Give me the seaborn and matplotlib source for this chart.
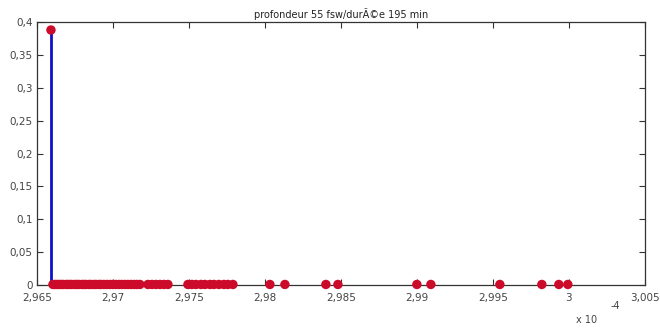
import numpy as np
import pandas as pd
import matplotlib
matplotlib.use("Agg")
import matplotlib.pyplot as plt
import matplotlib.ticker as mticker
import seaborn as sns

# x values (units of 1e-4)
x_vals = [
    2.965921, 2.966053, 2.966184, 2.966316, 2.966447, 2.966579, 2.966711, 2.966908,
    2.967039, 2.967171, 2.967303, 2.967500, 2.967632, 2.967763, 2.967961, 2.968092,
    2.968224, 2.968421, 2.968553, 2.968750, 2.968882, 2.969079, 2.969211, 2.969408,
    2.969605, 2.969803, 2.970000, 2.970197, 2.970395, 2.970592, 2.970789, 2.970987,
    2.971184, 2.971382, 2.971579, 2.971776,
    2.972303, 2.972566, 2.972829, 2.973092, 2.973355, 2.973618,
    2.974934, 2.975197, 2.975461, 2.975789, 2.976053, 2.976382, 2.976645, 2.976974,
    2.977303, 2.977566, 2.977895,
    2.980329, 2.981316, 2.984013, 2.984803, 2.990000, 2.990921, 2.995461,
    2.998224, 2.999342, 2.999934,
]
y_vals = [0.388] + [0.001] * (len(x_vals) - 1)

x_ticks = [2.965, 2.97, 2.975, 2.98, 2.985, 2.99, 2.995, 3.0, 3.005]
x_tick_labels = ["2,965", "2,97", "2,975", "2,98", "2,985", "2,99", "2,995", "3", "3,005"]
y_ticks = [0, 0.05, 0.1, 0.15, 0.2, 0.25, 0.3, 0.35, 0.4]
y_tick_labels = ["0", "0,05", "0,1", "0,15", "0,2", "0,25", "0,3", "0,35", "0,4"]
title = "profondeur 55 fsw/durÃ©e 195 min"

df = pd.DataFrame({"x": x_vals, "y": y_vals})

sns.set_style("ticks")
plt.rcParams["font.family"] = ["DejaVu Sans"]

fig = plt.figure(figsize=(6.6, 3.3), dpi=100)
ax = fig.add_axes([0.056, 0.136, 0.921, 0.797])

ax.vlines(df["x"], 0, df["y"], color="#1010c8", linewidth=2.0, zorder=2)
sns.scatterplot(data=df, x="x", y="y", ax=ax, color="#cc0a2a", s=46,
                edgecolor="none", zorder=3, legend=False, clip_on=False)

ax.set_xlim(2.965, 3.005)
ax.set_ylim(0, 0.4)
ax.set_xticks(x_ticks)
ax.set_xticklabels(x_tick_labels)
ax.set_yticks(y_ticks)
ax.set_yticklabels(y_tick_labels)
ax.set_xlabel("")
ax.set_ylabel("")
ax.set_title(title, fontsize=7, color="#222222", pad=3)

for s in ax.spines.values():
    s.set_visible(True)
    s.set_color("#333333")
    s.set_linewidth(0.9)
ax.tick_params(direction="in", top=True, right=True, length=4, width=0.8,
               colors="#333333", labelsize=7.5, labelcolor="#444444", pad=3)
ax.tick_params(axis="x", pad=6)

fig.text(0.872, 0.02, "x 10", fontsize=7, color="#444444")
fig.text(0.925, 0.065, "-4", fontsize=7, color="#444444")

fig.savefig("out.png", dpi=100)
